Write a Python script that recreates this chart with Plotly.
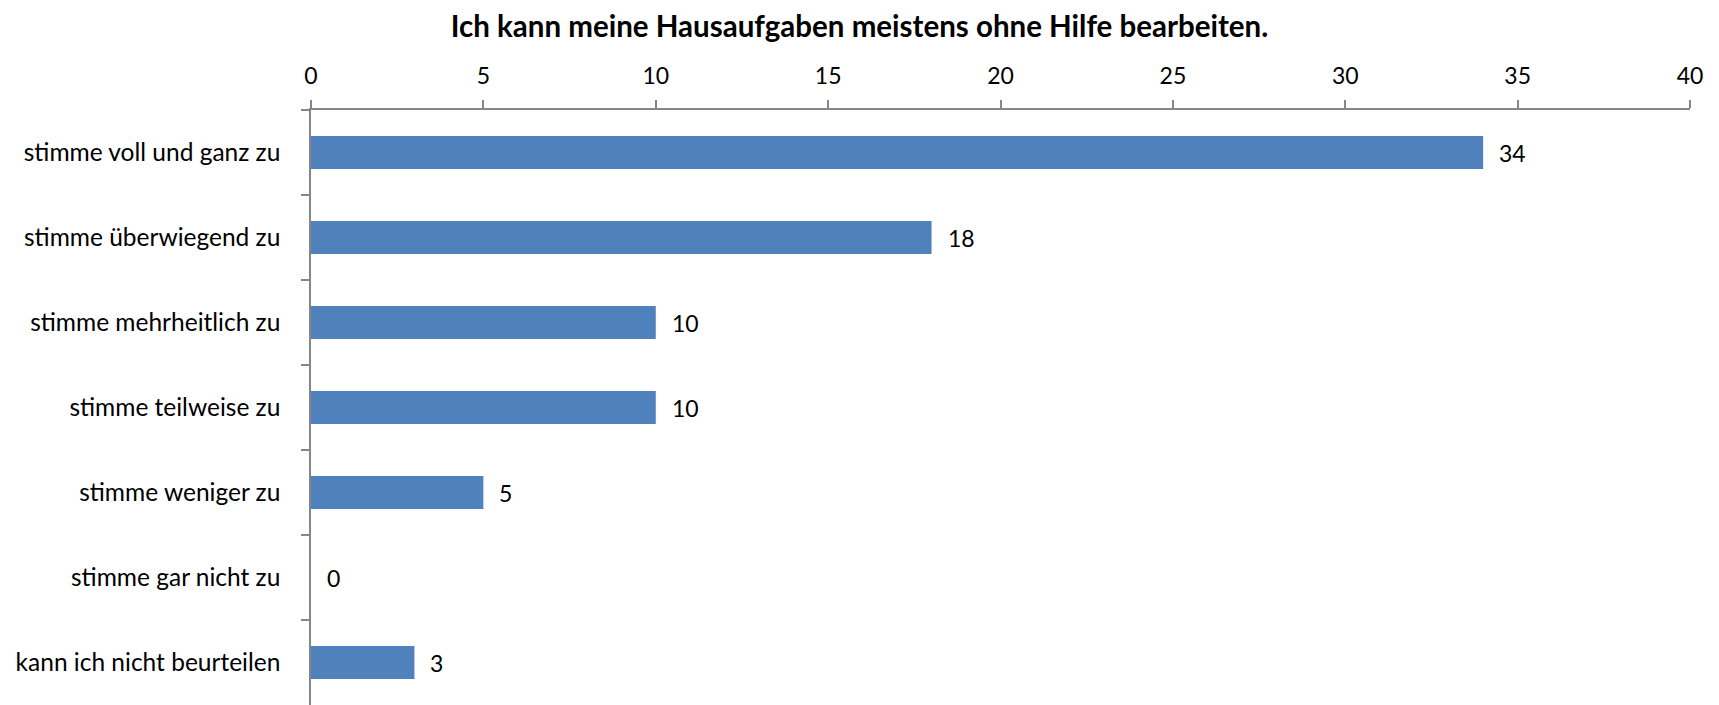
import plotly.graph_objects as go

categories = [
    "stimme voll und ganz zu",
    "stimme überwiegend zu",
    "stimme mehrheitlich zu",
    "stimme teilweise zu",
    "stimme weniger zu",
    "stimme gar nicht zu",
    "kann ich nicht beurteilen",
]
values = [34, 18, 10, 10, 5, 0, 3]
x_ticks = [0, 5, 10, 15, 20, 25, 30, 35, 40]
title_text = "Ich kann meine Hausaufgaben meistens ohne Hilfe bearbeiten."

FONT = "Lato"
AXIS_COLOR = "#868686"
BAR_COLOR = "#4F81BD"

fig = go.Figure()
fig.add_trace(go.Bar(
    x=values,
    y=categories,
    orientation="h",
    marker=dict(color=BAR_COLOR, line=dict(width=0)),
    hoverinfo="x+y",
))

for c, v in zip(categories, values):
    fig.add_annotation(
        x=v, y=c, text=str(v), showarrow=False,
        xanchor="left", yanchor="middle", xshift=14,
        font=dict(family=FONT, size=23, color="#000000"),
    )

fig.update_layout(
    width=1719, height=705,
    margin=dict(l=298, r=37, t=102, b=8),
    paper_bgcolor="white", plot_bgcolor="white",
    bargap=0.61,
    showlegend=False,
    title=dict(
        text="<b>" + title_text + "</b>",
        x=(859.5 - 8) / 1719, xanchor="center", xref="container",
        y=1 - 19 / 705, yanchor="middle", yref="container",
        font=dict(family=FONT, size=29.5, color="#000000"),
    ),
    xaxis=dict(
        range=[0, 40], side="top",
        tickmode="array", tickvals=x_ticks, ticktext=[str(t) for t in x_ticks],
        showgrid=False, zeroline=False,
        showline=True, linecolor=AXIS_COLOR, linewidth=1.5,
        ticks="outside", ticklen=8, tickcolor=AXIS_COLOR, tickwidth=1.5,
        ticklabelstandoff=7,
        tickfont=dict(family=FONT, size=23, color="#000000"),
        fixedrange=True,
    ),
    yaxis=dict(
        autorange="reversed",
        categoryorder="array", categoryarray=categories,
        showgrid=False, zeroline=False,
        showline=True, linecolor=AXIS_COLOR, linewidth=1.5,
        ticks="outside", ticklen=8, tickcolor=AXIS_COLOR, tickwidth=1.5,
        tickson="boundaries",
        ticklabelstandoff=24,
        tickfont=dict(family=FONT, size=24.5, color="#000000"),
        fixedrange=True,
    ),
)

fig.write_html("out.html")
